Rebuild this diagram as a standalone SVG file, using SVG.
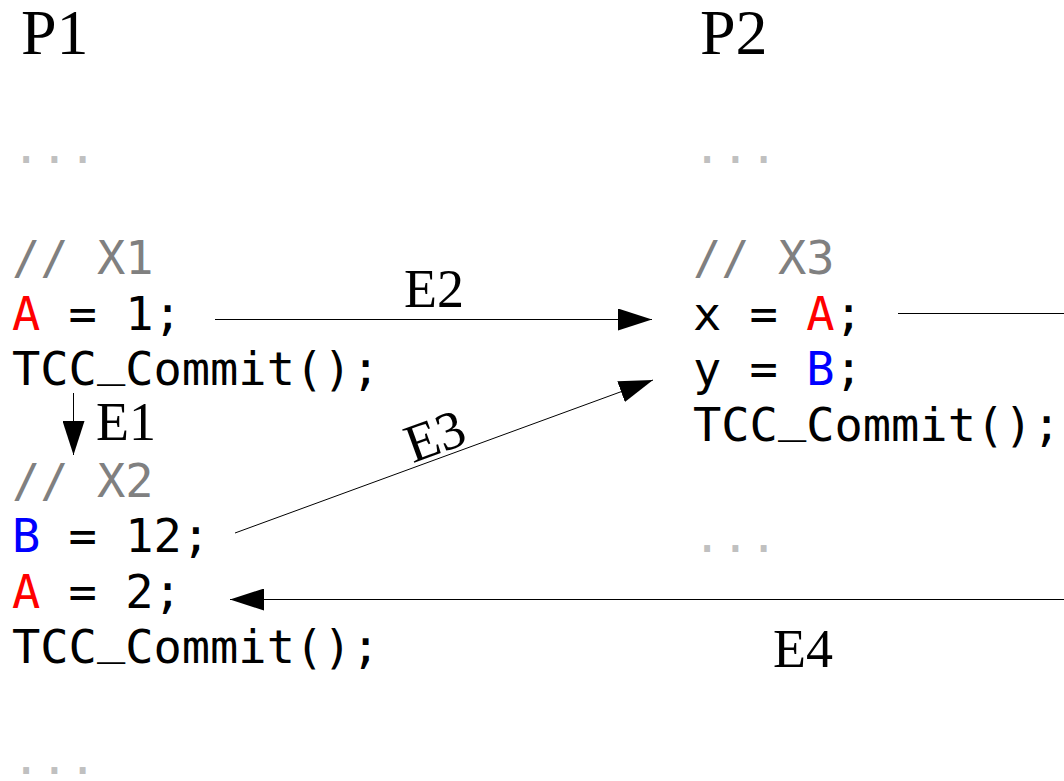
<svg xmlns="http://www.w3.org/2000/svg" width="1064" height="781" viewBox="0 0 1064 781">
  <style>
    .code { font-family: "DejaVu Sans Mono", "Liberation Mono", monospace; font-size: 47px; fill: #000; white-space: pre; }
    .cmt { fill: #808080; }
    .dots { fill: #c0c0c0; }
    .ra { fill: #ff0000; }
    .bb { fill: #0000ff; }
    .head { font-family: "Liberation Serif", "Times New Roman", serif; font-size: 64px; fill: #000; }
    .lbl { font-family: "Liberation Serif", "Times New Roman", serif; font-size: 54px; fill: #000; }
    .edge { stroke: #000; stroke-width: 1; fill: none; }
  </style>
  <defs>
    <marker id="arrow" markerUnits="userSpaceOnUse" markerWidth="34" markerHeight="22" refX="34" refY="11" orient="auto">
      <path d="M0,0 L34,11 L0,22 Z" fill="#000"/>
    </marker>
  </defs>
  <rect width="1064" height="781" fill="#fff"/>

  <!-- process 1 -->
  <g id="p1">
    <text class="head" x="21" y="54">P1</text>
    <text class="code dots" x="12" y="163">...</text>
    <text class="code cmt" x="12" y="274">// X1</text>
    <text class="code" x="12" y="330"><tspan class="ra">A</tspan> = 1;</text>
    <text class="code" x="12" y="385">TCC<tspan dy="-10">_</tspan><tspan dy="10">Commit();</tspan></text>
    <text class="code cmt" x="12" y="497">// X2</text>
    <text class="code" x="12" y="552"><tspan class="bb">B</tspan> = 12;</text>
    <text class="code" x="12" y="608"><tspan class="ra">A</tspan> = 2;</text>
    <text class="code" x="12" y="663">TCC<tspan dy="-10">_</tspan><tspan dy="10">Commit();</tspan></text>
    <text class="code dots" x="12" y="774">...</text>
  </g>

  <!-- process 2 -->
  <g id="p2">
    <text class="head" x="700" y="54">P2</text>
    <text class="code dots" x="693" y="163">...</text>
    <text class="code cmt" x="693" y="274">// X3</text>
    <text class="code" x="693" y="330">x = <tspan class="ra">A</tspan>;</text>
    <text class="code" x="693" y="385">y = <tspan class="bb">B</tspan>;</text>
    <text class="code" x="693" y="441">TCC<tspan dy="-10">_</tspan><tspan dy="10">Commit();</tspan></text>
    <text class="code dots" x="693" y="552">...</text>
  </g>

  <!-- ordering edges -->
  <g id="edges">
    <line class="edge" x1="73.5" y1="393" x2="73.5" y2="455" marker-end="url(#arrow)"/>
    <line class="edge" x1="215" y1="319.5" x2="652" y2="319.5" marker-end="url(#arrow)"/>
    <line class="edge" x1="235" y1="533" x2="653" y2="380" marker-end="url(#arrow)"/>
    <line class="edge" x1="1070" y1="599.5" x2="230" y2="599.5" marker-end="url(#arrow)"/>
    <line class="edge" x1="898" y1="313.5" x2="1070" y2="313.5"/>
    <text class="lbl" x="96" y="440">E1</text>
    <text class="lbl" x="404" y="307">E2</text>
    <text class="lbl" text-anchor="middle" transform="translate(441,453) rotate(-20)">E3</text>
    <text class="lbl" x="773" y="667">E4</text>
  </g>
</svg>
